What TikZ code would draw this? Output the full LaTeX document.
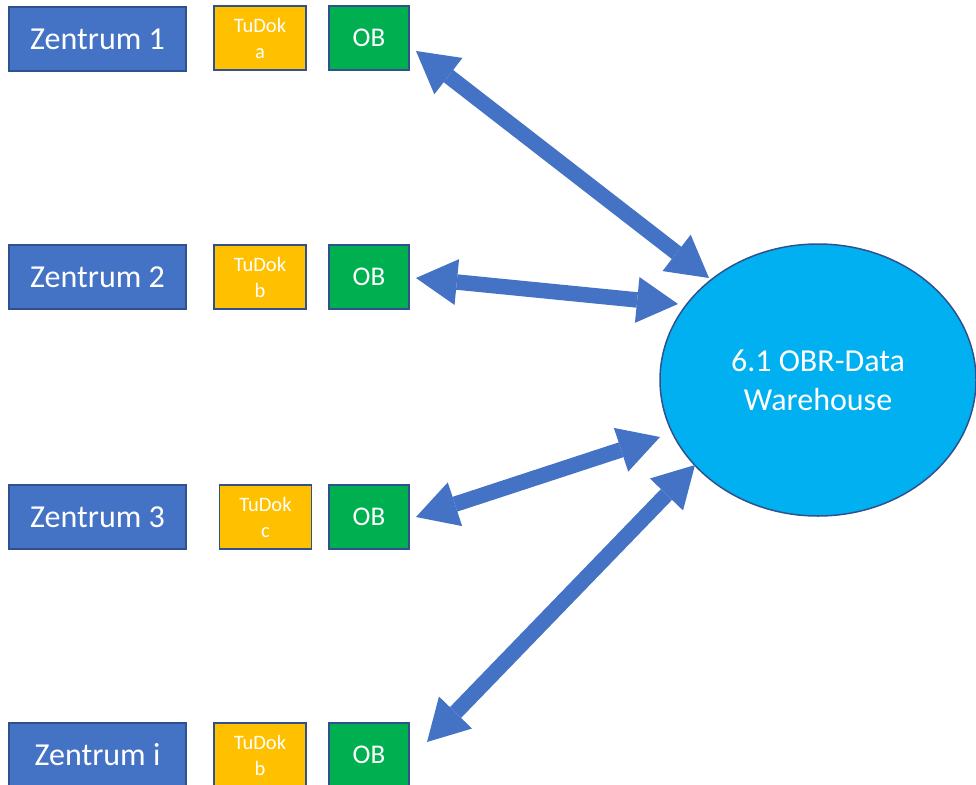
\documentclass[tikz,border=0pt]{standalone}
\usepackage{fontspec}
\setmainfont{Carlito}
\usetikzlibrary{arrows.meta,shapes.geometric}
\definecolor{zblue}{HTML}{4472C4}
\definecolor{zedge}{HTML}{2F528F}
\definecolor{tyel}{HTML}{FFC000}
\definecolor{obgreen}{HTML}{00B050}
\definecolor{dwcyan}{HTML}{00B0F0}
\tikzset{
  zbox/.style={draw=zedge, line width=1.5pt, fill=zblue, text=white, minimum width=177pt, minimum height=64pt, inner sep=0pt, font=\fontsize{32}{38}\selectfont},
  tbox/.style={draw=zedge, line width=1.5pt, fill=tyel, text=white, minimum width=92pt, minimum height=64pt, inner sep=0pt, align=center, font=\fontsize{20.5}{26}\selectfont},
  obox/.style={draw=zedge, line width=1.5pt, fill=obgreen, text=white, minimum width=80pt, minimum height=64pt, inner sep=0pt, font=\fontsize{27}{32}\selectfont},
  dw/.style={ellipse, draw=zedge, line width=1.5pt, fill=dwcyan, text=white, minimum width=316pt, minimum height=272pt, inner sep=0pt, align=center, font=\fontsize{32}{39}\selectfont},
  blockarrow/.style={draw=zblue, line width=15.5pt, {Triangle[length=41pt,width=46pt,line width=0pt]}-{Triangle[length=41pt,width=46pt,line width=0pt]}}
}
\begin{document}
\begin{tikzpicture}[x=1pt,y=-1pt]
\useasboundingbox (0,0) rectangle (976,784);
% row 1
\node[zbox] (z1) at (97.5,39) {Zentrum 1};
\node[tbox] (t1) at (260,38) {TuDok\\a};
\node[obox] (o1) at (369,38) {OB};
% row 2
\node[zbox] (z2) at (97.5,277) {Zentrum 2};
\node[tbox] (t2) at (260,277) {TuDok\\b};
\node[obox] (o2) at (369,277) {OB};
% row 3
\node[zbox] (z3) at (97.5,517) {Zentrum 3};
\node[tbox] (t3) at (265.5,517) {TuDok\\c};
\node[obox] (o3) at (369,517) {OB};
% row 4
\node[zbox] (z4) at (97.5,755) {Zentrum i};
\node[tbox] (t4) at (260,755) {TuDok\\b};
\node[obox] (o4) at (369,755) {OB};
% warehouse
\node[dw] (dw) at (818,380) {6.1 OBR-Data\\Warehouse};
% arrow end points
\coordinate (a1s) at (416,51);
\coordinate (a1e) at (709,278);
\coordinate (a2s) at (416,278);
\coordinate (a2e) at (678,304);
\coordinate (a3s) at (416,517);
\coordinate (a3e) at (660,437);
\coordinate (a4s) at (427,742);
\coordinate (a4e) at (695,465);
\draw[blockarrow] (a1s) -- (a1e);
\draw[blockarrow] (a2s) -- (a2e);
\draw[blockarrow] (a3s) -- (a3e);
\draw[blockarrow] (a4s) -- (a4e);
\end{tikzpicture}
\end{document}
